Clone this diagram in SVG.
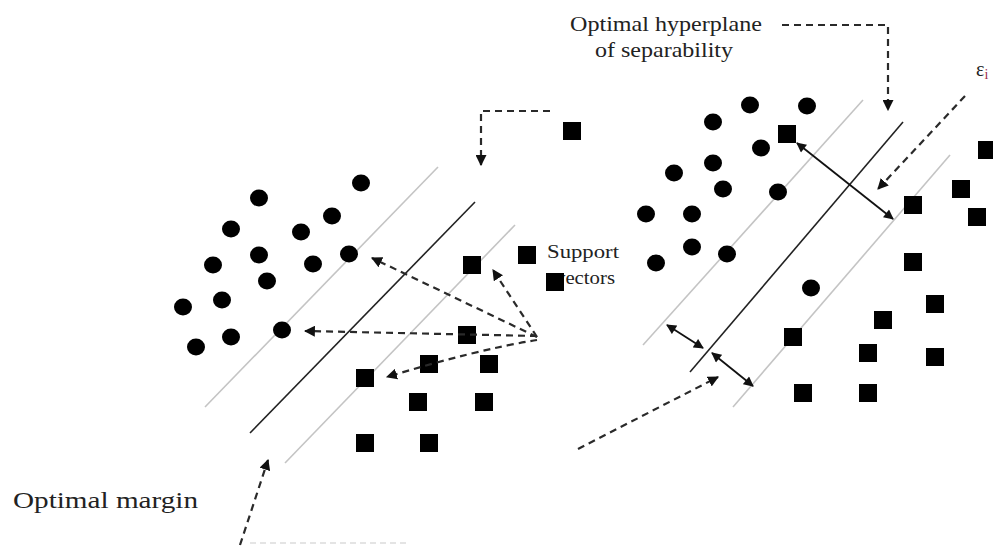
<svg xmlns="http://www.w3.org/2000/svg" width="993" height="546" viewBox="0 0 993 546">
  <style>
    .pt { fill: #000; }
    .gl { stroke: #c4c4c4; stroke-width: 1.6; fill: none; }
    .hl { stroke: #222; stroke-width: 1.6; fill: none; }
    .da { stroke: #2a2a2a; stroke-width: 2.2; stroke-dasharray: 7 5; fill: none; marker-end: url(#ah); }
    .dbl { stroke: #111; stroke-width: 1.8; fill: none; marker-start: url(#dh); marker-end: url(#dh); }
    .lbl { font-family: "Liberation Serif", "Times New Roman", serif; fill: #222; }
  </style>
  <defs>
    <marker id="ah" viewBox="0 0 10 10" refX="9" refY="5" markerWidth="11" markerHeight="11" orient="auto" markerUnits="userSpaceOnUse">
      <path d="M0,0 L10,5 L0,10 z" fill="#111"/>
    </marker>
    <marker id="dh" viewBox="0 0 10 10" refX="9" refY="5" markerWidth="11" markerHeight="10" orient="auto-start-reverse" markerUnits="userSpaceOnUse">
      <path d="M0,0 L10,5 L0,10 z" fill="#111"/>
    </marker>
  </defs>

  <!-- margin and hyperplane lines -->
  <g id="lines">
    <line class="gl" x1="438" y1="167" x2="205" y2="407"/>
    <line class="hl" x1="475" y1="202" x2="250" y2="433"/>
    <line class="gl" x1="515" y1="225" x2="285" y2="463"/>
    <line class="gl" x1="863" y1="100" x2="643" y2="345"/>
    <line class="hl" x1="903" y1="122" x2="690" y2="372"/>
    <line class="gl" x1="950" y1="155" x2="733" y2="407"/>
  </g>

  <!-- left panel class A (circles) -->
  <g id="left-circles">
    <ellipse class="pt" cx="361" cy="183" rx="9" ry="8.5"/>
    <ellipse class="pt" cx="259" cy="198" rx="9" ry="8.5"/>
    <ellipse class="pt" cx="332" cy="216" rx="9" ry="8.5"/>
    <ellipse class="pt" cx="231" cy="229" rx="9" ry="8.5"/>
    <ellipse class="pt" cx="301" cy="232" rx="9" ry="8.5"/>
    <ellipse class="pt" cx="259" cy="255" rx="9" ry="8.5"/>
    <ellipse class="pt" cx="349" cy="254" rx="9" ry="8.5"/>
    <ellipse class="pt" cx="213" cy="265" rx="9" ry="8.5"/>
    <ellipse class="pt" cx="313" cy="264" rx="9" ry="8.5"/>
    <ellipse class="pt" cx="267" cy="281" rx="9" ry="8.5"/>
    <ellipse class="pt" cx="183" cy="307" rx="9" ry="8.5"/>
    <ellipse class="pt" cx="222" cy="300" rx="9" ry="8.5"/>
    <ellipse class="pt" cx="231" cy="337" rx="9" ry="8.5"/>
    <ellipse class="pt" cx="196" cy="347" rx="9" ry="8.5"/>
    <ellipse class="pt" cx="282" cy="330" rx="9" ry="8.5"/>
  </g>

  <!-- left panel class B (squares) -->
  <g id="left-squares">
    <rect class="pt" x="458" y="326" width="18" height="18"/>
    <rect class="pt" x="420" y="355" width="18" height="18"/>
    <rect class="pt" x="480" y="355" width="18" height="18"/>
    <rect class="pt" x="356" y="369" width="18" height="18"/>
    <rect class="pt" x="409" y="393" width="18" height="18"/>
    <rect class="pt" x="475" y="393" width="18" height="18"/>
    <rect class="pt" x="356" y="434" width="18" height="18"/>
    <rect class="pt" x="420" y="434" width="18" height="18"/>
    <rect class="pt" x="463" y="256" width="18" height="18"/>
    <rect class="pt" x="518" y="246" width="18" height="18"/>
    <rect class="pt" x="563" y="122" width="18" height="18"/>
  </g>

  <!-- right panel class A (circles) -->
  <g id="right-circles">
    <ellipse class="pt" cx="713" cy="122" rx="9" ry="8.5"/>
    <ellipse class="pt" cx="750" cy="105" rx="9" ry="8.5"/>
    <ellipse class="pt" cx="807" cy="106" rx="9" ry="8.5"/>
    <ellipse class="pt" cx="761" cy="148" rx="9" ry="8.5"/>
    <ellipse class="pt" cx="713" cy="163" rx="9" ry="8.5"/>
    <ellipse class="pt" cx="674" cy="173" rx="9" ry="8.5"/>
    <ellipse class="pt" cx="723" cy="189" rx="9" ry="8.5"/>
    <ellipse class="pt" cx="778" cy="192" rx="9" ry="8.5"/>
    <ellipse class="pt" cx="646" cy="214" rx="9" ry="8.5"/>
    <ellipse class="pt" cx="692" cy="214" rx="9" ry="8.5"/>
    <ellipse class="pt" cx="692" cy="247" rx="9" ry="8.5"/>
    <ellipse class="pt" cx="727" cy="254" rx="9" ry="8.5"/>
    <ellipse class="pt" cx="656" cy="263" rx="9" ry="8.5"/>
    <ellipse class="pt" cx="811" cy="288" rx="9" ry="8.5"/>
  </g>

  <!-- right panel class B (squares) -->
  <g id="right-squares">
    <rect class="pt" x="778" y="125" width="18" height="18"/>
    <rect class="pt" x="904" y="196" width="18" height="18"/>
    <rect class="pt" x="952" y="180" width="18" height="18"/>
    <rect class="pt" x="968" y="208" width="18" height="18"/>
    <rect class="pt" x="904" y="253" width="18" height="18"/>
    <rect class="pt" x="978" y="141" width="18" height="18"/>
    <rect class="pt" x="926" y="295" width="18" height="18"/>
    <rect class="pt" x="874" y="311" width="18" height="18"/>
    <rect class="pt" x="784" y="328" width="18" height="18"/>
    <rect class="pt" x="859" y="344" width="18" height="18"/>
    <rect class="pt" x="926" y="348" width="18" height="18"/>
    <rect class="pt" x="794" y="384" width="18" height="18"/>
    <rect class="pt" x="859" y="384" width="18" height="18"/>
  </g>

  <!-- labels -->
  <g id="label-hyperplane">
    <text class="lbl" x="570" y="31" font-size="21" textLength="192" lengthAdjust="spacingAndGlyphs">Optimal  hyperplane</text>
    <text class="lbl" x="595" y="57" font-size="21" textLength="138" lengthAdjust="spacingAndGlyphs">of separability</text>
  </g>
  <g id="label-support">
    <text class="lbl" x="547" y="258" font-size="18" textLength="72" lengthAdjust="spacingAndGlyphs">Support</text>
    <text class="lbl" x="555" y="284" font-size="18" textLength="60" lengthAdjust="spacingAndGlyphs">vectors</text>
    <rect class="pt" x="546" y="273" width="18" height="18"/>
  </g>
  <g id="label-margin">
    <text class="lbl" x="13" y="508" font-size="23" textLength="185" lengthAdjust="spacingAndGlyphs">Optimal  margin</text>
  </g>
  <g id="label-epsilon">
    <text class="lbl" x="976" y="76" font-size="20">ε<tspan font-size="14" dy="3" fill="#a0304a">i</tspan></text>
  </g>

  <!-- connectors -->
  <g id="connectors">
    <path class="da" d="M550,111 H481 V165"/>
    <path class="da" d="M537,337 L372,258"/>
    <path class="da" d="M537,337 L493,270"/>
    <path class="da" d="M537,336 L305,331"/>
    <path class="da" d="M537,340 Q475,350 387,377"/>
    <path class="da" d="M240,545 L268,460"/>
    <line x1="250" y1="543" x2="410" y2="543" stroke="#dcdcdc" stroke-width="1.5" stroke-dasharray="6 4"/>
    <path class="da" d="M782,25 H888 V110"/>
    <path class="da" d="M965,96 L878,189"/>
    <path class="da" d="M578,449 L718,377"/>
    <line class="dbl" x1="797" y1="143" x2="893" y2="219"/>
    <line class="dbl" x1="667" y1="325" x2="703" y2="348"/>
    <line class="dbl" x1="712" y1="353" x2="753" y2="386"/>
  </g>
</svg>
